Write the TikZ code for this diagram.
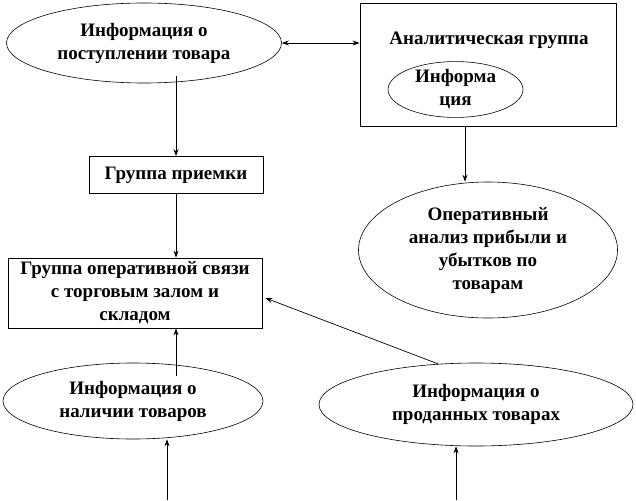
\documentclass[tikz,border=0pt]{standalone}
\usepackage{fontspec}
\setmainfont{Liberation Serif}
\usetikzlibrary{shapes.geometric,arrows.meta,calc}

\begin{document}
\begin{tikzpicture}[x=1pt,y=-1pt,
    every node/.style={font=\fontsize{19}{23}\selectfont\bfseries, align=center, inner sep=0pt},
    oval/.style={ellipse, draw, line width=0.6pt},
    block/.style={rectangle, draw, line width=0.8pt},
    arr/.style={-{Stealth[length=7pt,width=5pt]}, line width=0.7pt}]

        \useasboundingbox (0,0) rectangle (636,500);

        \begin{scope}[every node/.append style={oval}]
          \node (postup) at (144,43)    [minimum width=275pt, minimum height=80pt] {Информация о\\поступлении товара};
          \node (info)   at (455.5,89.5) [minimum width=135pt, minimum height=55pt] {Информа\\ция};
          \node (oper)   at (488,250)   [minimum width=259pt, minimum height=136pt] {Оперативный\\анализ прибыли и\\убытков по\\товарам};
          \node (nalich) at (133,401)   [minimum width=260pt, minimum height=76pt] {Информация о\\наличии товаров};
          \node (prodan) at (476,404.5) [minimum width=314pt, minimum height=83pt] {Информация о\\проданных товарах};
        \end{scope}

        \begin{scope}[every node/.append style={block}]
          \node (analit) at (488,64.5) [minimum width=256pt, minimum height=123pt] {};
          \node (priem)  at (176,175)  [minimum width=174pt, minimum height=37pt] {Группа приемки};
          \node (svyaz)  at (135,293)  [minimum width=254pt, minimum height=70pt] {Группа оперативной связи\\с торговым залом и\\складом};
        \end{scope}

        \node (title) at (489,40) {Аналитическая группа};

        \coordinate (inNal)  at (167,500);
        \coordinate (inProd) at (456,500);
        \coordinate (postOut)   at ($(priem.north |- postup.south)+(0,-7)$);
        \coordinate (nalichOut) at ($(nalich.north -| priem.south)+(0,13)$);
        \coordinate (analitOut) at ($(analit.south)+(-23,0)$);

        \begin{scope}[every path/.style={arr}]
          \path[draw,{Stealth[length=7pt,width=5pt]}-{Stealth[length=7pt,width=5pt]}] (postup.east) -- (analit.west |- postup.east);
          \draw (postOut) -- (priem.north);
          \draw (priem.south) -- (priem.south |- svyaz.north);
          \draw (nalichOut) -- (priem.south |- svyaz.south);
          \draw (analitOut) -- (analitOut |- oper.north);
          \draw (prodan.133) -- ([shift={(3pt,-5pt)}]svyaz.east);
          \draw (inNal) -- (inNal |- nalich.south);
          \draw (inProd) -- (inProd |- prodan.south);
        \end{scope}

      \end{tikzpicture}
\end{document}
